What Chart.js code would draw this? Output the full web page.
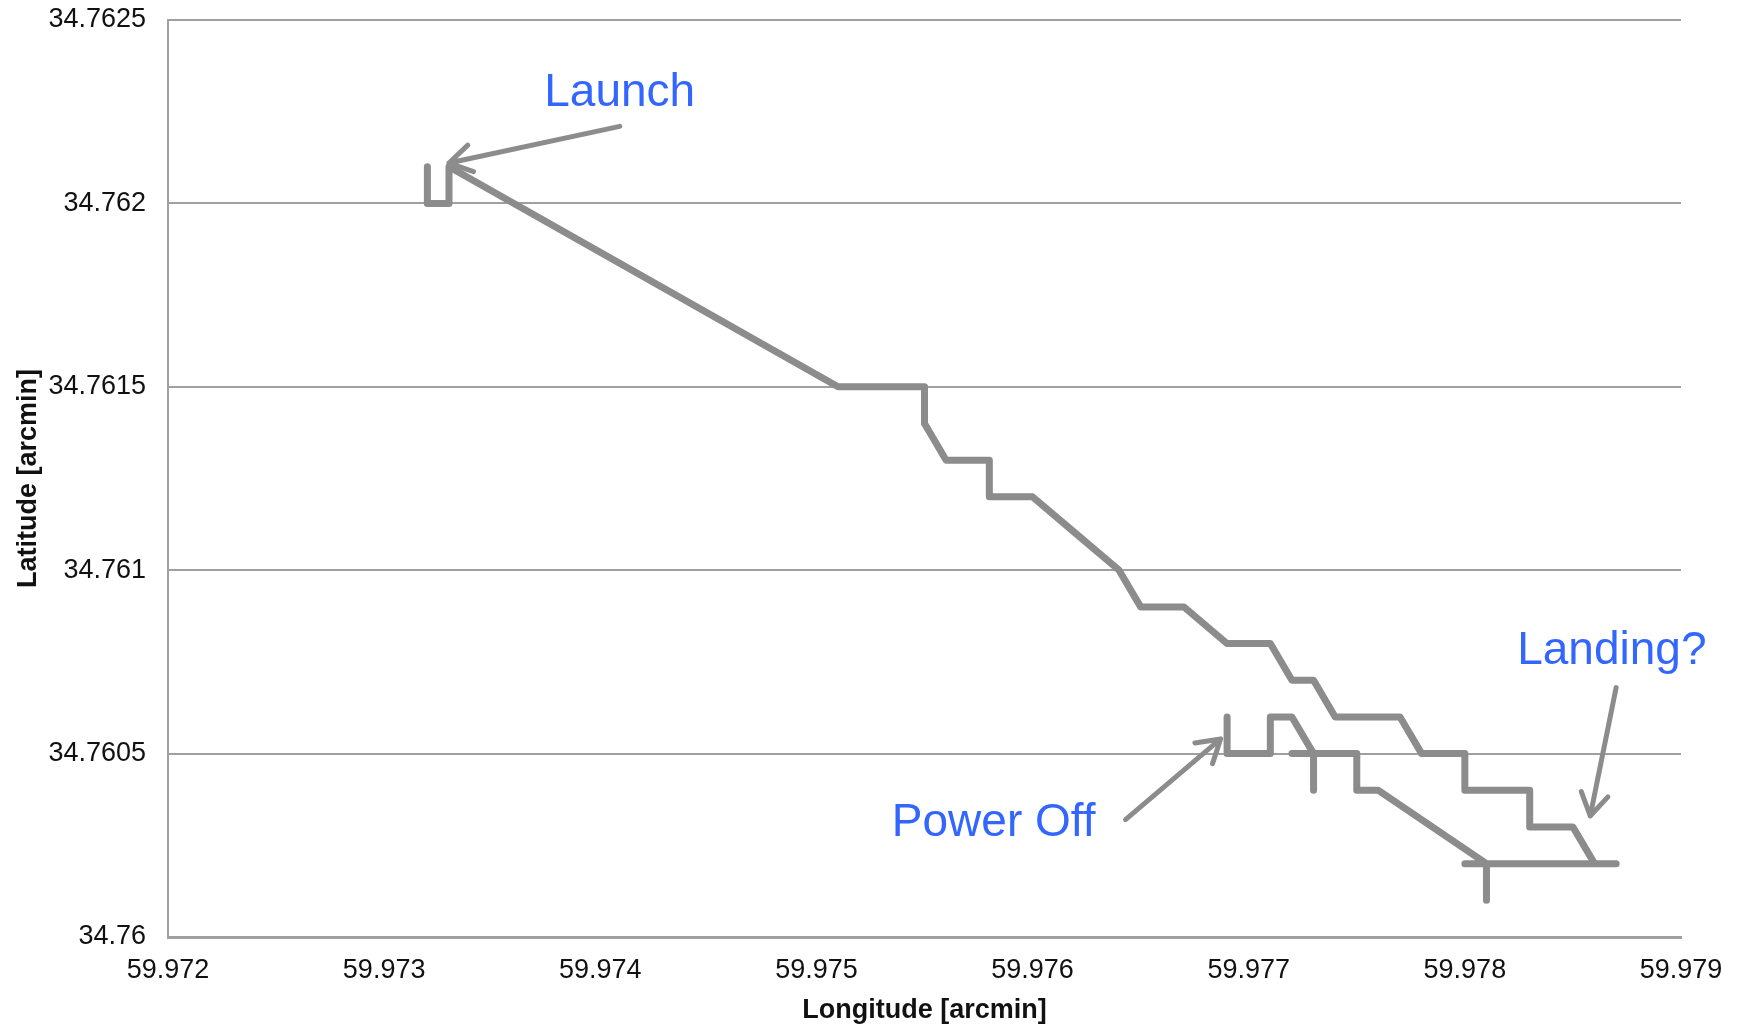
<!DOCTYPE html>
<html lang="en">
<head>
    <meta charset="UTF-8">
    <title>Flight Track</title>
    <script src="https://cdn.jsdelivr.net/npm/chart.js"></script>
    <style>
        html, body {
            margin: 0;
            padding: 0;
            background: #ffffff;
        }
        #chart-container {
            width: 1741px;
            height: 1027px;
        }
    </style>
</head>
<body>
    <div id="chart-container">
        <canvas id="trackChart"></canvas>
    </div>

    <script>
        // GPS track (arcmin), in recorded order
        const longitude = [
            59.9732, 59.9732, 59.9733, 59.9733, 59.9751, 59.9753, 59.9754, 59.9755,
            59.9755, 59.9756, 59.9757, 59.9758, 59.9758, 59.9759, 59.9760, 59.9762,
            59.9764, 59.9765, 59.9766, 59.9767, 59.9769, 59.9771, 59.9772, 59.9773,
            59.9774, 59.9775, 59.9776, 59.9777, 59.9778, 59.9780, 59.9780, 59.9783,
            59.9783, 59.9785, 59.9786, 59.9787, 59.9780, 59.9781, 59.9781, 59.9781,
            59.9776, 59.9775, 59.9775, 59.9772, 59.9773, 59.9773, 59.9773, 59.9772,
            59.9771, 59.9771, 59.9769, 59.9769
        ];
        const latitude = [
            34.7621, 34.7620, 34.7620, 34.7621, 34.7615, 34.7615, 34.7615, 34.7615,
            34.7614, 34.7613, 34.7613, 34.7613, 34.7612, 34.7612, 34.7612, 34.7611,
            34.7610, 34.7609, 34.7609, 34.7609, 34.7608, 34.7608, 34.7607, 34.7607,
            34.7606, 34.7606, 34.7606, 34.7606, 34.7605, 34.7605, 34.7604, 34.7604,
            34.7603, 34.7603, 34.7602, 34.7602, 34.7602, 34.7602, 34.7601, 34.7602,
            34.7604, 34.7604, 34.7605, 34.7605, 34.7605, 34.7604, 34.7605, 34.7606,
            34.7606, 34.7605, 34.7605, 34.7606
        ];

        const xTicks = [59.972, 59.973, 59.974, 59.975, 59.976, 59.977, 59.978, 59.979];
        const yTicks = [34.76, 34.7605, 34.761, 34.7615, 34.762, 34.7625];

        // Callouts: label, text centre, arrow tail, arrow head (data units)
        const noteLabels = ['Launch', 'Power Off', 'Landing?'];
        const noteText = [[59.97409, 34.76230], [59.97582, 34.76031], [59.97868, 34.76078]];
        const noteTail = [[59.97409, 34.76221], [59.97643, 34.76032], [59.97870, 34.76068]];
        const noteHead = [[59.97330, 34.76211], [59.97687, 34.76054], [59.97858, 34.76033]];

        const points = longitude.map((x, i) => ({ x: x, y: latitude[i] }));

        const calloutPlugin = {
            id: 'callouts',
            afterDatasetsDraw(chart) {
                const c = chart.ctx;
                const sx = chart.scales.x;
                const sy = chart.scales.y;
                c.save();
                noteLabels.forEach((label, i) => {
                    const tx = sx.getPixelForValue(noteTail[i][0]);
                    const ty = sy.getPixelForValue(noteTail[i][1]);
                    const hx = sx.getPixelForValue(noteHead[i][0]);
                    const hy = sy.getPixelForValue(noteHead[i][1]);
                    const ang = Math.atan2(hy - ty, hx - tx);
                    const len = 26;
                    c.strokeStyle = '#8c8c8c';
                    c.lineWidth = 5;
                    c.lineCap = 'round';
                    c.lineJoin = 'round';
                    c.beginPath();
                    c.moveTo(tx, ty);
                    c.lineTo(hx, hy);
                    c.moveTo(hx - len * Math.cos(ang - 0.55), hy - len * Math.sin(ang - 0.55));
                    c.lineTo(hx, hy);
                    c.lineTo(hx - len * Math.cos(ang + 0.55), hy - len * Math.sin(ang + 0.55));
                    c.stroke();

                    c.fillStyle = '#3366ff';
                    c.font = '46px "Liberation Sans", Arial, sans-serif';
                    c.textAlign = 'center';
                    c.textBaseline = 'middle';
                    c.fillText(label, sx.getPixelForValue(noteText[i][0]), sy.getPixelForValue(noteText[i][1]));
                });
                c.restore();
            }
        };

        const tickFont = { family: '"Liberation Sans", Arial, sans-serif', size: 27 };
        const titleFont = { family: '"Liberation Sans", Arial, sans-serif', size: 27, weight: 'bold' };

        const config = {
            type: 'scatter',
            data: {
                datasets: [{
                    data: points,
                    showLine: true,
                    borderColor: '#8c8c8c',
                    borderWidth: 7,
                    borderCapStyle: 'round',
                    borderJoinStyle: 'round',
                    pointRadius: 0,
                    pointHoverRadius: 0,
                    fill: false,
                    tension: 0
                }]
            },
            options: {
                responsive: false,
                animation: false,
                layout: {
                    padding: { top: 20, right: 60, left: 0, bottom: 0 }
                },
                plugins: {
                    legend: { display: false },
                    tooltip: { enabled: false }
                },
                scales: {
                    x: {
                        type: 'linear',
                        min: xTicks[0],
                        max: xTicks[xTicks.length - 1],
                        afterBuildTicks: (scale) => {
                            scale.ticks = xTicks.map(v => ({ value: v }));
                        },
                        afterFit: (scale) => {
                            scale.height = 90;
                            scale.paddingLeft = 0;
                            scale.paddingRight = 0;
                        },
                        ticks: {
                            font: tickFont,
                            color: '#111111',
                            padding: 17,
                            maxRotation: 0,
                            callback: (v) => String(Number(v.toFixed(4)))
                        },
                        grid: { display: false, drawTicks: false },
                        border: { display: true, color: '#a0a0a0', width: 3 },
                        title: {
                            display: true,
                            text: 'Longitude [arcmin]',
                            font: titleFont,
                            color: '#111111',
                            padding: { top: 4, bottom: 0 }
                        }
                    },
                    y: {
                        type: 'linear',
                        min: yTicks[0],
                        max: yTicks[yTicks.length - 1],
                        afterBuildTicks: (scale) => {
                            scale.ticks = yTicks.map(v => ({ value: v }));
                        },
                        afterFit: (scale) => {
                            scale.width = 168;
                            scale.paddingTop = 0;
                            scale.paddingBottom = 0;
                        },
                        ticks: {
                            font: tickFont,
                            color: '#111111',
                            padding: 22,
                            callback: (v) => String(Number(v.toFixed(4)))
                        },
                        grid: { color: '#a0a0a0', lineWidth: 2, drawTicks: false },
                        border: { display: true, color: '#a0a0a0', width: 2 },
                        title: {
                            display: true,
                            text: 'Latitude [arcmin]',
                            font: titleFont,
                            color: '#111111',
                            padding: { top: 12, bottom: 0 }
                        }
                    }
                }
            },
            plugins: [calloutPlugin]
        };

        const canvas = document.getElementById('trackChart');
        canvas.width = 1741;
        canvas.height = 1027;
        const trackChart = new Chart(canvas.getContext('2d'), config);
    </script>
</body>
</html>
